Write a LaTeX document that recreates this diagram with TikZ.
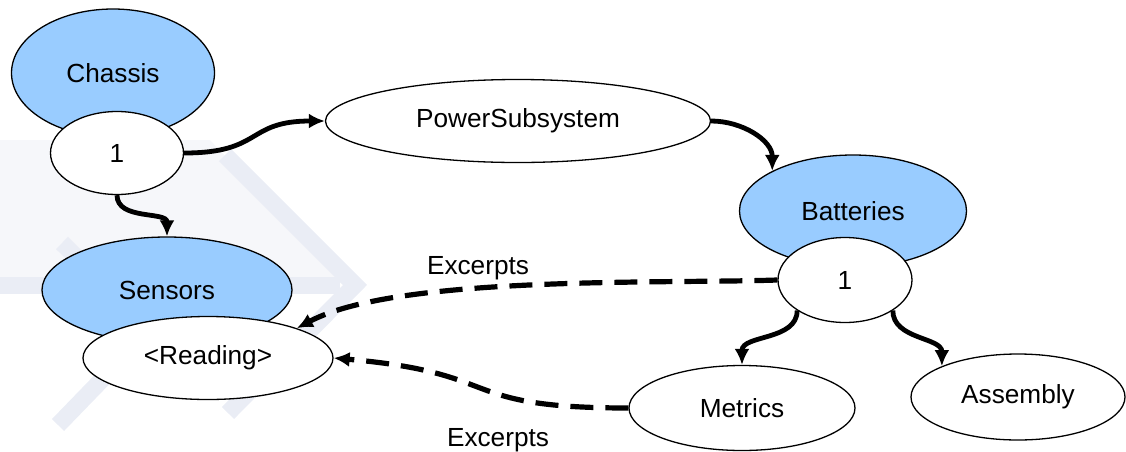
\documentclass[tikz,border=0pt]{standalone}
\usepackage{fontspec}
\setmainfont{Liberation Sans}
\usepackage{tikz}
\usetikzlibrary{positioning,arrows.meta,shapes.geometric}
\definecolor{partblue}{RGB}{153,204,255}
\definecolor{wmband}{RGB}{234,237,245}
\definecolor{wmpale}{RGB}{246,247,250}
\tikzset{
  partnode/.style={ellipse, draw, fill=partblue, line width=0.65pt, inner sep=0pt, font=\fontsize{13.1}{15.7}\selectfont},
  plainnode/.style={ellipse, draw, fill=white, line width=0.65pt, inner sep=0pt, font=\fontsize{13.1}{15.7}\selectfont},
  fwd/.style={-{Latex[length=8pt,width=7.5pt]}, line width=2.4pt},
  excerpt/.style={-{Latex[length=8pt,width=7.5pt]}, line width=2.6pt, dash pattern=on 11.5pt off 6pt},
  edgetext/.style={font=\fontsize{13.1}{15.7}\selectfont, inner sep=1pt},
  wmline/.style={draw=wmband, line width=8.5pt},
}

\begin{document}
\begin{tikzpicture}[x=0.5pt, y=-0.5pt]
  \useasboundingbox (0,0) rectangle (1126,451);

  % faint logo in the background
  \fill[wmpale] (0,140) -- (210,140) -- (345,283) -- (0,283) -- cycle;
  \draw[wmline] (0,285) -- (340,285);
  \draw[wmline] (225,155) -- (355,285) -- (228,413);
  \draw[wmline] (62,243) -- (150,330) -- (58,425);

  \node[partnode, minimum width=101.5pt, minimum height=64pt] (chassis) at (113,73) {Chassis};
  \node[plainnode, minimum width=66.5pt, minimum height=41.5pt] (chassisone) at (117,153) {1};
  \node[plainnode, minimum width=192.5pt, minimum height=41.5pt] (power) at (518,121) {PowerSubsystem};
  \node[partnode, minimum width=113.5pt, minimum height=56pt] (batteries) at (853,211) {Batteries};
  \node[plainnode, minimum width=67pt, minimum height=42.5pt] (batteryone) at (845,280) {1};
  \node[partnode, minimum width=125pt, minimum height=53pt] (sensors) at (167,290) {Sensors};
  \node[plainnode, minimum width=125pt, minimum height=41.5pt] (reading) at (208,358) {<Reading>};
  \node[plainnode, minimum width=113pt, minimum height=42.5pt] (metrics) at (742,408) {Metrics};
  \node[plainnode, minimum width=107pt, minimum height=43pt] (assembly) at (1018,397) {Assembly};

  \node[edgetext] (excerptsup) at (478,268) {Excerpts};
  \node[edgetext] (excerptsdown) at (498,440) {Excerpts};

  \draw[fwd] (chassisone.east) to[out=0, in=180, looseness=1.4] (power.west);
  \draw[fwd] (chassisone.south) to[out=-90, in=90] (sensors.north);
  \draw[fwd] (power.east) to[out=0, in=90] (batteries.north west);
  \draw[fwd] (batteryone.south west) to[out=-90, in=90] (metrics.north);
  \draw[fwd] (batteryone.south east) to[out=-90, in=90] (assembly.north west);
  \draw[excerpt] (batteryone.west) to[out=182, in=28, looseness=0.6] (reading.north east);
  \draw[excerpt] (metrics.west) to[out=180, in=-5, looseness=1.5] (reading.east);
\end{tikzpicture}
\end{document}
